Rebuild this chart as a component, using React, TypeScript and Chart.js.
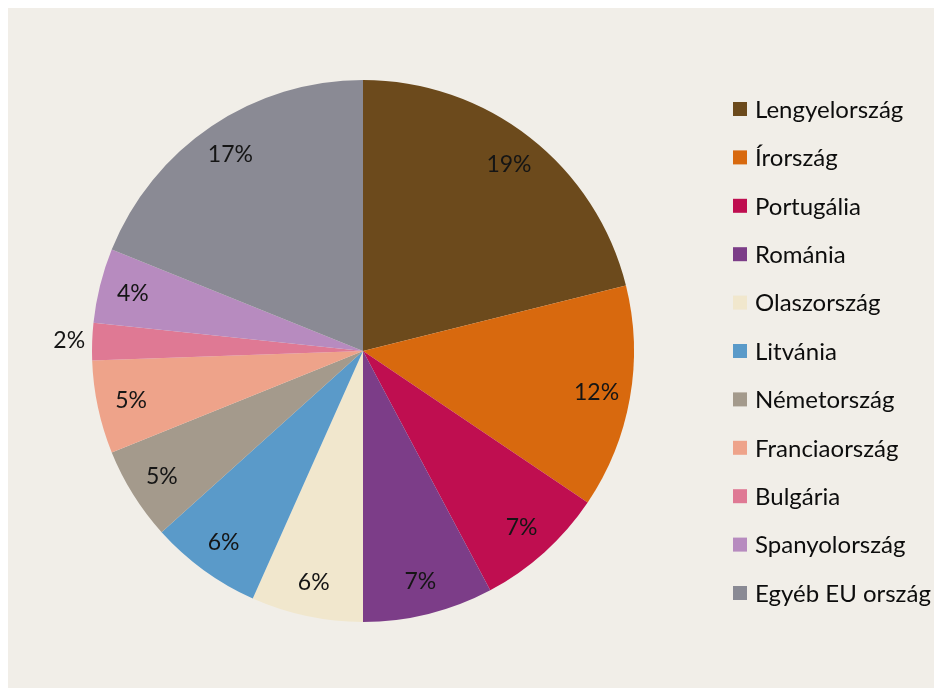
import React, { useEffect, useRef } from "react";
import { Chart, registerables } from "chart.js";

Chart.register(...registerables);

const categories = [
  "Lengyelország",
  "Írország",
  "Portugália",
  "Románia",
  "Olaszország",
  "Litvánia",
  "Németország",
  "Franciaország",
  "Bulgária",
  "Spanyolország",
  "Egyéb EU ország",
];
const values = [19, 12, 7, 7, 6, 6, 5, 5, 2, 4, 17];
const valueLabels = ["19%", "12%", "7%", "7%", "6%", "6%", "5%", "5%", "2%", "4%", "17%"];
const colors = [
  "#6c4a1c",
  "#d8690e",
  "#bf0e50",
  "#7c3d88",
  "#f1e7cd",
  "#5a9ac9",
  "#a49a8c",
  "#eea38a",
  "#df7994",
  "#b78bbf",
  "#8a8a94",
];
const outsideLabels = [8];

const FONT = "Lato, 'Open Sans', sans-serif";

const labelsPlugin = {
  id: "customLabels",
  afterDatasetsDraw(chart: any) {
    const ctx = chart.ctx;
    const meta = chart.getDatasetMeta(0);
    ctx.save();
    ctx.font = `23px ${FONT}`;
    ctx.fillStyle = "#151515";
    ctx.textAlign = "center";
    ctx.textBaseline = "middle";
    meta.data.forEach((arc: any, i: number) => {
      const { x, y, startAngle, endAngle, outerRadius } = arc.getProps(
        ["x", "y", "startAngle", "endAngle", "outerRadius"],
        true
      );
      const mid = (startAngle + endAngle) / 2;
      const r = outsideLabels.includes(i) ? outerRadius + 23 : outerRadius * 0.875;
      ctx.fillText(valueLabels[i], x + Math.cos(mid) * r, y + Math.sin(mid) * r);
    });
    // legend
    ctx.font = `24px ${FONT}`;
    ctx.textAlign = "left";
    const lx = 725;
    const ly0 = 101;
    const step = 48.4;
    categories.forEach((c, i) => {
      const cy = ly0 + i * step;
      ctx.fillStyle = colors[i];
      ctx.fillRect(lx, cy - 7, 14, 14);
      ctx.fillStyle = "#0d0d0d";
      ctx.fillText(c, lx + 22, cy + 1);
    });
    ctx.restore();
  },
};

export default function App() {
  const ref = useRef<HTMLCanvasElement>(null);
  useEffect(() => {
    if (!ref.current) return;
    const chart = new Chart(ref.current, {
      type: "pie",
      data: {
        labels: categories,
        datasets: [
          {
            data: values,
            backgroundColor: colors,
            borderWidth: 0,
          },
        ],
      },
      options: {
        animation: false,
        responsive: false,
        maintainAspectRatio: false,
        layout: { padding: { left: 83, right: 299, top: 72, bottom: 66 } },
        plugins: {
          legend: { display: false },
          tooltip: { enabled: false },
        },
      },
      plugins: [labelsPlugin],
    });
    return () => chart.destroy();
  }, []);
  return (
    <div style={{ width: 926, height: 680, background: "#f1eee8" }}>
      <canvas ref={ref} width={926} height={680} style={{ display: "block" }} />
    </div>
  );
}
